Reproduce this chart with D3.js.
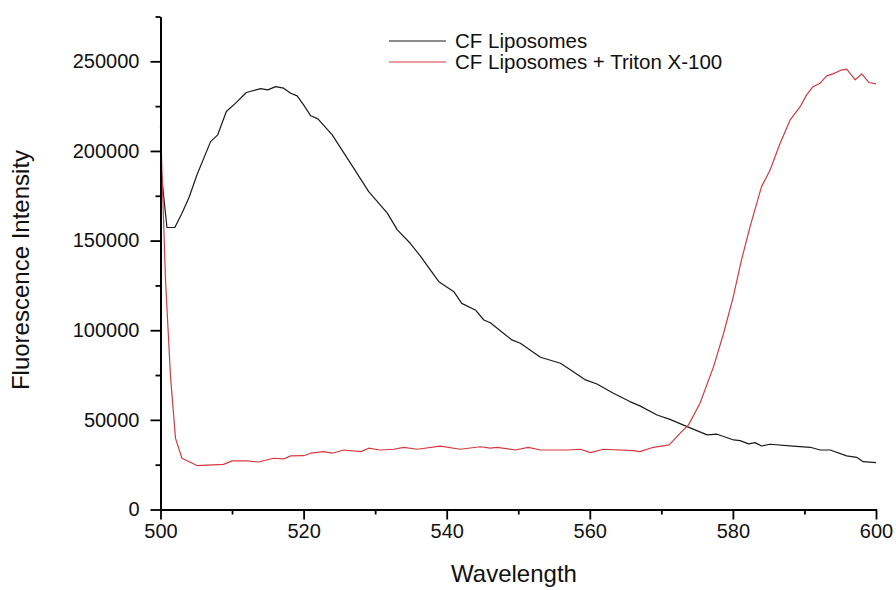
<!DOCTYPE html>
<html><head><meta charset="utf-8">
<script src="https://cdn.jsdelivr.net/npm/d3@7/dist/d3.min.js"></script>
<style>
body{margin:0;background:#fff}
text{font-family:"Liberation Sans",Arial,sans-serif;fill:#111}
</style>
</head><body>
<svg id="c" width="896" height="590"></svg>
<script>
const blackWl=[500,500.9,502,503,504,505.1,507,508,509.2,510.5,512,514,515,516.1,517.2,518.2,519.1,520,521,522,524,527,529.1,531.7,533.1,534.9,536.3,538.9,541,542.1,544,545.2,546.1,549.1,550.3,553.1,555.9,557.7,559.4,561,563.3,565.6,567,569.4,571.2,573.6,576.4,577.8,580.1,581,582.2,583.1,584,585.2,588.4,590.8,592.2,593.6,595.9,597.3,598.2,600];
const blackVal=[192000,157300,157300,165300,174200,186700,205200,209000,222000,226700,232600,234800,234100,235900,235000,232200,230700,225700,219600,217900,209000,190400,177300,165300,156000,148500,141500,127100,121500,115000,111300,105700,104200,94600,92700,84900,81600,76900,72300,70000,64800,60200,57800,52700,50300,46200,41600,42000,38800,38400,36600,37300,35400,36400,35400,34700,33200,33200,29900,29100,26700,26100];
const redWl=[500,500.7,501.4,502.1,503,505.1,508.8,510,512.1,513.7,515.8,517.2,518.2,520,521,522.8,524,525.6,528,529.1,530.7,532.6,534,535.9,539.1,541.9,544.7,546.1,547,549.6,551.4,553.1,556.8,558.7,560.1,561.9,566.1,567,568.9,571.1,572.6,573.8,575.4,577.3,578.7,580,581.2,582.4,584,585.2,586.6,588,589.4,590.3,591.2,592.2,593.1,594,595,595.9,597.1,598,599,600];
const redVal=[214000,128000,74000,39700,28600,24500,25200,27100,27100,26500,28600,28200,29900,30000,31400,32300,31400,33200,32300,34200,33200,33600,34700,33600,35400,33600,35000,34200,34700,33200,34700,33200,33200,33600,31700,33600,32800,32300,34700,36000,42500,47200,59300,79700,98300,117800,139200,157800,180100,189400,204300,217300,224700,231300,235900,237800,241900,243000,244900,245600,239700,243000,238200,237400];
const xMajorTicks=[500,520,540,560,580,600];
const xMinorTicks=[510,530,550,570,590];
const yMajorTicks=[0,50000,100000,150000,200000,250000];
const yMinorTicks=[25000,75000,125000,175000,225000,275000];
const seriesNames=["CF Liposomes","CF Liposomes + Triton X-100"];
const seriesColors=["#1a1a1a","#d63a40"];
const xTitle="Wavelength", yTitle="Fluorescence Intensity";

const svg=d3.select("#c");
const x=d3.scaleLinear().domain([500,600]).range([160.5,876]);
const y=d3.scaleLinear().domain([0,275000]).range([509.5,16.5]);

const series=[
  {name:seriesNames[0],color:seriesColors[0],pts:blackWl.map((w,i)=>[w,blackVal[i]])},
  {name:seriesNames[1],color:seriesColors[1],pts:redWl.map((w,i)=>[w,redVal[i]])}
];
const line=d3.line().x(d=>x(d[0])).y(d=>y(d[1]));
series.forEach(s=>{
  svg.append("path").attr("d",line(s.pts)).attr("fill","none")
    .attr("stroke",s.color).attr("stroke-width",1.2).attr("stroke-linejoin","round");
});

function styleAxis(g,fs){
  g.select(".domain").attr("stroke","#000").attr("stroke-width",1.8);
  g.selectAll(".tick line").attr("stroke","#000").attr("stroke-width",1.8);
  g.selectAll("text").attr("font-size",fs).attr("fill","#111")
   .style("font-family","'Liberation Sans',Arial,sans-serif");
}
const gx=svg.append("g").attr("transform","translate(0,509.5)")
  .call(d3.axisBottom(x).tickValues(xMajorTicks).tickFormat(d3.format("d")).tickSizeInner(10).tickSizeOuter(0).tickPadding(4));
styleAxis(gx,"20px");
const gxm=svg.append("g").attr("transform","translate(0,509.5)")
  .call(d3.axisBottom(x).tickValues(xMinorTicks).tickFormat("").tickSizeInner(5).tickSizeOuter(0));
styleAxis(gxm,"1px");
const gy=svg.append("g").attr("transform","translate(160.5,0)")
  .call(d3.axisLeft(y).tickValues(yMajorTicks).tickFormat(d3.format("d")).tickSizeInner(10).tickSizeOuter(0).tickPadding(11));
styleAxis(gy,"20px");
const gym=svg.append("g").attr("transform","translate(160.5,0)")
  .call(d3.axisLeft(y).tickValues(yMinorTicks).tickFormat("").tickSizeInner(5).tickSizeOuter(0));
styleAxis(gym,"1px");

svg.append("text").attr("x",514).attr("y",582).attr("text-anchor","middle")
  .attr("font-size","24px").text(xTitle);
svg.append("text").attr("transform","translate(29,270) rotate(-90)").attr("text-anchor","middle")
  .attr("font-size","24px").text(yTitle);

const leg=svg.append("g");
const rowsY=[41,62];
series.forEach((s,i)=>{
  leg.append("line").attr("x1",389).attr("x2",446).attr("y1",rowsY[i]).attr("y2",rowsY[i])
    .attr("stroke",s.color).attr("stroke-width",1.2);
  leg.append("text").attr("x",455).attr("y",rowsY[i]).attr("dy","0.35em")
    .attr("font-size","20.5px").text(s.name);
});
</script>
</body></html>
